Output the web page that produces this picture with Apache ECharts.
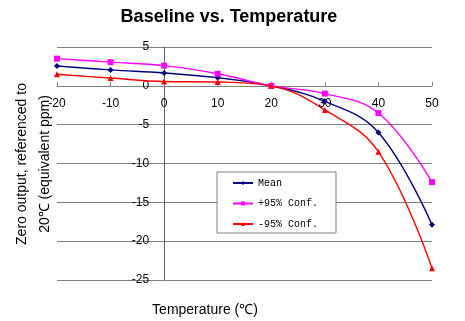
<!DOCTYPE html>
<html>
<head>
<meta charset="utf-8">
<script src="https://cdn.jsdelivr.net/npm/echarts@6/dist/echarts.min.js"></script>
<style>
  html, body { margin: 0; padding: 0; background: #fff; }
  #chart { width: 465px; height: 321px; }
</style>
</head>
<body>
<div id="chart"></div>
<script>
// Temperature points (°C) and zero-output readings (equivalent ppm, referenced to 20 °C)
var temps = [-20, -10, 0, 10, 20, 30, 40, 50];
var meanVals = [2.55, 2.05, 1.65, 1.05, 0, -2.0, -6.0, -17.9];
var upperVals = [3.5, 3.05, 2.6, 1.55, 0, -1.0, -3.5, -12.4];
var lowerVals = [1.5, 1.0, 0.55, 0.5, 0, -3.1, -8.5, -23.5];
var seriesNames = ['Mean', '+95% Conf.', '-95% Conf.'];

var X_MIN = -20, X_MAX = 50, Y_MIN = -25, Y_MAX = 5;
var GRID = { left: 57, right: 33, top: 47, bottom: 41 };
var W = 465, H = 321;

function pairs(vals) {
  return temps.map(function (t, i) { return [t, vals[i]]; });
}

// Both axes cross at the origin: shift each axis from the grid edge to the zero line
var plotW = W - GRID.left - GRID.right;
var plotH = H - GRID.top - GRID.bottom;
var yAxisShift = -plotW * (0 - X_MIN) / (X_MAX - X_MIN);
var xAxisShift = -plotH * (0 - Y_MIN) / (Y_MAX - Y_MIN);

var chart = echarts.init(document.getElementById('chart'), null, { renderer: 'canvas' });

var lineSeries = function (name, vals, color, symbol, size) {
  return {
    name: name,
    type: 'line',
    data: pairs(vals),
    smooth: 0.4,
    symbol: symbol,
    symbolSize: size,
    lineStyle: { color: color, width: 1.4 },
    itemStyle: { color: color },
    emphasis: { disabled: true },
    z: 3
  };
};

chart.setOption({
  animation: false,
  backgroundColor: '#ffffff',
  title: {
    text: 'Baseline vs. Temperature',
    left: 224,
    textAlign: 'center',
    top: 3,
    textStyle: { fontFamily: 'Liberation Sans', fontSize: 18, fontWeight: 'bold', color: '#000' }
  },
  grid: { left: GRID.left, right: GRID.right, top: GRID.top, bottom: GRID.bottom, containLabel: false },
  xAxis: {
    type: 'value',
    min: X_MIN, max: X_MAX, interval: 10,
    offset: xAxisShift,
    axisLine: { show: true, onZero: false, lineStyle: { color: '#808080', width: 1 } },
    axisTick: { show: true, inside: true, length: 4, lineStyle: { color: '#808080' } },
    axisLabel: { margin: 12, fontFamily: 'Liberation Sans', fontSize: 12, color: '#000' },
    splitLine: { show: false }
  },
  yAxis: {
    type: 'value',
    min: Y_MIN, max: Y_MAX, interval: 5,
    offset: yAxisShift,
    axisLine: { show: true, onZero: false, lineStyle: { color: '#606060', width: 1 } },
    axisTick: { show: false },
    axisLabel: { margin: 15, fontFamily: 'Liberation Sans', fontSize: 12, color: '#000' },
    splitLine: { show: true, lineStyle: { color: '#808080', width: 1 } }
  },
  legend: {
    orient: 'vertical',
    left: 217,
    top: 172,
    padding: [6, 18, 4, 15],
    backgroundColor: '#ffffff',
    borderColor: '#808080',
    borderWidth: 1,
    borderRadius: 0,
    itemWidth: 20,
    itemHeight: 5,
    itemGap: 10.5,
    data: seriesNames,
    textStyle: { fontFamily: 'Liberation Mono', fontSize: 10, lineHeight: 10, height: 10, color: '#000' },
    z: 5
  },
  graphic: [
    {
      type: 'text',
      x: 34, y: 164,
      rotation: Math.PI / 2,
      style: {
        text: 'Zero output, referenced to\n20\u2103 (equivalent ppm)',
        fontFamily: 'Liberation Sans',
        fontSize: 14,
        lineHeight: 23,
        fill: '#000',
        align: 'center',
        verticalAlign: 'middle'
      }
    },
    {
      type: 'text',
      x: 205, y: 310,
      style: {
        text: 'Temperature (\u2103)',
        fontFamily: 'Liberation Sans',
        fontSize: 14,
        fill: '#000',
        align: 'center',
        verticalAlign: 'middle'
      }
    }
  ],
  series: [
    lineSeries(seriesNames[0], meanVals, '#000080', 'diamond', 6),
    lineSeries(seriesNames[1], upperVals, '#ff00ff', 'rect', 6),
    lineSeries(seriesNames[2], lowerVals, '#ff0000', 'triangle', 6)
  ]
});
</script>
</body>
</html>
